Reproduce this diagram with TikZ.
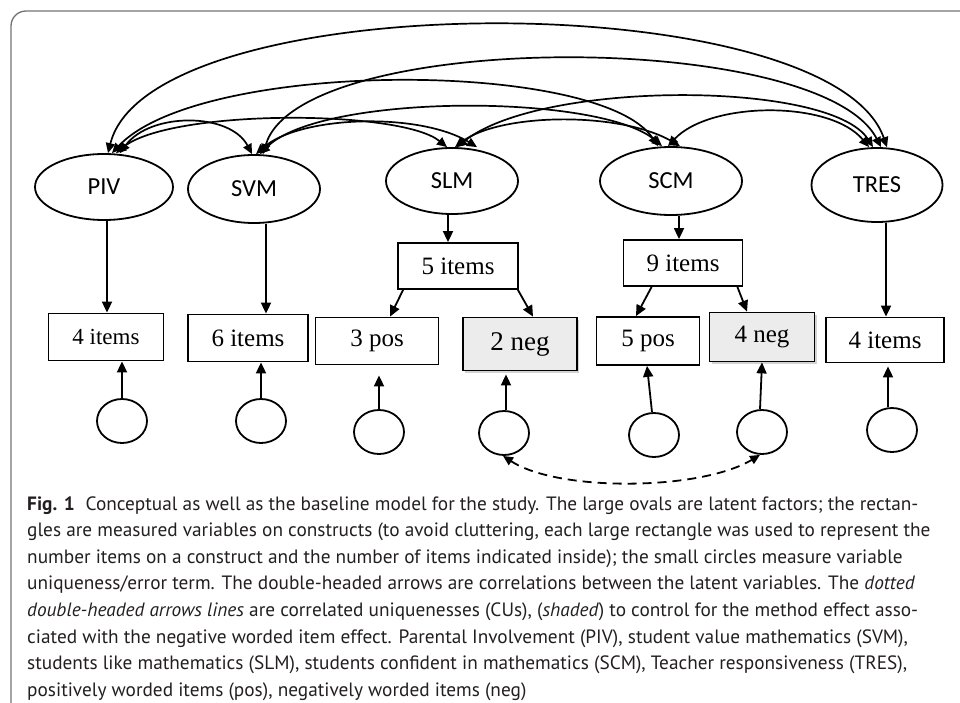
\documentclass[tikz,border=0pt]{standalone}
\usepackage{fontspec}
\setmainfont{Liberation Serif}
\newfontfamily\capfont{PT Sans}
\newfontfamily\ovfont{Carlito}
\usetikzlibrary{shapes.geometric,arrows.meta,shadows}
\definecolor{framegray}{RGB}{115,115,115}
\definecolor{shadefill}{RGB}{236,236,236}
\definecolor{captext}{RGB}{35,31,32}
\begin{document}
\begin{tikzpicture}[x=1pt,y=-1pt,
  lat/.style={ellipse, draw, line width=1.8pt, inner sep=0pt, font=\ovfont\fontsize{24.5}{28}\selectfont},
  itembox/.style={rectangle, draw, line width=1.8pt, inner sep=0pt, font=\fontsize{25}{28}\selectfont},
  negbox/.style={itembox, fill=shadefill, drop shadow={shadow xshift=2pt, shadow yshift=-2.5pt, opacity=0.35, fill=gray}},
  errc/.style={ellipse, draw, line width=1.8pt, minimum width=50pt, minimum height=44pt, inner sep=0pt},
  arr/.style={-{Triangle[length=11pt,width=10pt]}, line width=1.8pt},
  cor/.style={{Triangle[length=10pt,width=9pt]}-{Triangle[length=10pt,width=9pt]}, line width=1.7pt},
  cu/.style={{Triangle[length=10pt,width=9pt]}-{Triangle[length=10pt,width=9pt]}, line width=1.8pt, dash pattern=on 9pt off 6pt},
  capline/.style={anchor=base west, inner sep=0pt, text=captext, font=\capfont\fontsize{19.3}{26}\selectfont}
]
\useasboundingbox (0,0) rectangle (960,703);
% frame
\draw[framegray, line width=1.3pt, rounded corners=15pt] (11,710) -- (11,11) -- (970,11);

% latent factors
\node[lat, minimum width=138pt, minimum height=66pt] (piv) at (104,187) {PIV};
\node[lat, minimum width=132pt, minimum height=68pt] (svm) at (254,189) {SVM};
\node[lat, minimum width=132pt, minimum height=66pt] (slm) at (452,181) {SLM};
\node[lat, minimum width=142pt, minimum height=68pt] (scm) at (671,181) {SCM};
\node[lat, minimum width=131pt, minimum height=74pt] (tres) at (877,185) {TRES};

% measured variables
\node[itembox, minimum width=115pt, minimum height=47pt, font=\fontsize{23}{26}\selectfont] (b1) at (106,337) {4 items};
\node[itembox, minimum width=120pt, minimum height=47pt] (b2) at (248,338) {6 items};
\node[itembox, minimum width=123pt, minimum height=47pt] (b3) at (377,341) {3 pos};
\node[itembox, minimum width=120pt, minimum height=46pt] (b4) at (458,266) {5 items};
\node[negbox, minimum width=114pt, minimum height=53pt, font=\fontsize{27}{30}\selectfont] (b5) at (520,344) {2 neg};
\node[itembox, minimum width=119pt, minimum height=46pt] (b6) at (683,263) {9 items};
\node[itembox, minimum width=103pt, minimum height=48pt] (b7) at (648,341) {5 pos};
\node[negbox, minimum width=105pt, minimum height=49pt] (b8) at (762,337) {4 neg};
\node[itembox, minimum width=118pt, minimum height=45pt] (b9) at (885,340) {4 items};

% error terms
\node[errc] (c1) at (122,421) {};
\node[errc] (c2) at (261,421) {};
\node[errc] (c3) at (379,432) {};
\node[errc] (c4) at (504,433) {};
\node[errc] (c5) at (654,435) {};
\node[errc] (c6) at (762,432) {};
\node[errc] (c7) at (892,430) {};

% loadings
\draw[arr] ([xshift=3pt]piv.south) -- ([xshift=3pt]piv.south |- b1.north);
\draw[arr] ([xshift=12pt]svm.south) -- ([xshift=12pt]svm.south |- b2.north);
\draw[arr] ([xshift=-4pt]slm.south) -- ([xshift=-4pt]slm.south |- b4.north);
\draw[arr] ([xshift=8pt]scm.south) -- ([xshift=8pt]scm.south |- b6.north);
\draw[arr] ([xshift=9pt]tres.south) -- ([xshift=9pt]tres.south |- b9.north);

\draw[arr] ([xshift=6pt]b4.south west) -- ([xshift=13pt]b3.north);
\draw[arr] ([xshift=-1pt]b4.south east) -- ([xshift=13pt]b5.north);
\draw[arr] ([xshift=29pt]b6.south west) -- ([xshift=-12pt]b7.north);
\draw[arr] ([xshift=-6pt]b6.south east) -- ([xshift=-15pt]b8.north);

% uniqueness arrows
\draw[arr] (c1.north) -- (c1.north |- b1.south);
\draw[arr] (c2.north) -- (c2.north |- b2.south);
\draw[arr, shorten >=10pt] (c3.north) -- (c3.north |- b3.south);
\draw[arr, shorten >=3pt] ([xshift=2pt]c4.north) -- ([xshift=2pt]c4.north |- b5.south);
\draw[arr] ([xshift=-2pt]c5.north) -- ([xshift=-1pt]b7.south);
\draw[arr] ([xshift=-2pt]c6.north) -- (b8.south);
\draw[arr, shorten >=3pt] ([xshift=-4pt]c7.north) -- ([xshift=-4pt]c7.north |- b9.south);

% correlated uniquenesses
\draw[cu] ([xshift=-1pt]c4.south) .. controls +(55,36) and +(-60,36) .. ([xshift=-2pt]c6.south);

% correlations between latent factors
\draw[cor] ([xshift=4pt]piv.north) .. controls +(42,-169) and +(-57,-163) .. ([xshift=10pt]tres.north);
\draw[cor] ([xshift=9pt]svm.north) .. controls +(37,-125) and +(-61,-118) .. ([xshift=4pt]tres.north);
\draw[cor] ([xshift=8pt]piv.north) .. controls +(88,-94) and +(-58,-87) .. ([xshift=-13pt]scm.north);
\draw[cor] ([xshift=6pt]svm.north) .. controls +(60,-61) and +(-62,-53) .. ([xshift=-9pt]scm.north);
\draw[cor] ([xshift=5pt]slm.north) .. controls +(83,-67) and +(-43,-67) .. ([xshift=-4pt]tres.north);
\draw[cor] ([xshift=12pt]piv.north) .. controls +(54,-44) and +(-47,-38) .. ([xshift=-5pt]slm.north);
\draw[cor] ([xshift=16pt]piv.north) .. controls +(30,-41) and +(-22,-42) .. ([xshift=-2pt]svm.north);
\draw[cor] ([xshift=2pt]svm.north) .. controls +(44,-39) and +(-57,-35) .. ([xshift=25pt]slm.north);
\draw[cor] ([xshift=3pt]slm.north) .. controls +(45,-34) and +(-60,-35) .. ([xshift=9pt]scm.north);
\draw[cor] ([xshift=-3pt]scm.north) .. controls +(42,-45) and +(-39,-47) .. ([xshift=-8pt]tres.north);

% caption
\node[capline] (l1) at (27,510) {\textbf{Fig. 1}\hspace{0.3em} Conceptual as well as the baseline model for the study. The large ovals are latent factors; the rectan-};
\node[capline] (l2) at (27,536.6) {gles are measured variables on constructs (to avoid cluttering, each large rectangle was used to represent the};
\node[capline] (l3) at (27,563.2) {number items on a construct and the number of items indicated inside); the small circles measure variable};
\node[capline] (l4) at (27,589.8) {uniqueness/error term. The double-headed arrows are correlations between the latent variables. The \textit{dotted}};
\node[capline] (l5) at (27,616.4) {\textit{double-headed arrows lines} are correlated uniquenesses (CUs), (\textit{shaded}) to control for the method effect asso-};
\node[capline] (l6) at (27,643) {ciated with the negative worded item effect. Parental Involvement (PIV), student value mathematics (SVM),};
\node[capline] (l7) at (27,669.6) {students like mathematics (SLM), students confident in mathematics (SCM), Teacher responsiveness (TRES),};
\node[capline] (l8) at (27,696.2) {positively worded items (pos), negatively worded items (neg)};
\end{tikzpicture}
\end{document}
